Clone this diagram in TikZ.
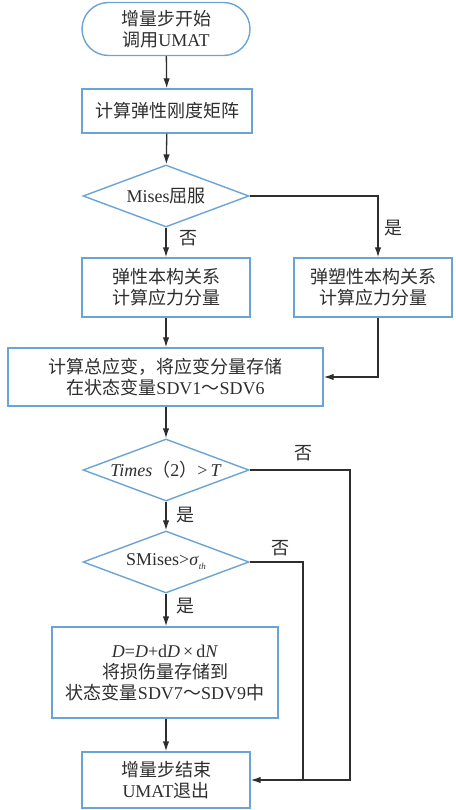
\documentclass[tikz,border=0pt]{standalone}
\usepackage{fontspec}
\setmainfont{Liberation Serif}
\newfontfamily\cjk{Noto Sans CJK SC}
\usetikzlibrary{shapes.geometric,shapes.misc,arrows.meta}
\definecolor{bluebd}{HTML}{6AA3D5}
\definecolor{linec}{HTML}{2E2E2E}
\definecolor{textc}{HTML}{2E2E2E}
\begin{document}
\begin{tikzpicture}[x=1pt,y=-1pt,
  every node/.style={font=\fontsize{18}{21}\selectfont, text=textc, align=center},
  box/.style={draw=bluebd, line width=1.4pt, rectangle, inner sep=0pt},
  term/.style={draw=bluebd, line width=1.4pt, rounded rectangle, inner sep=0pt},
  dia/.style={draw=bluebd, line width=1.4pt, diamond, aspect=2.7, inner sep=0pt, minimum width=166pt, minimum height=62pt},
  conn/.style={draw=linec, line width=1.3pt, -{Latex[length=10pt,width=6.5pt]}},
  lab/.style={font=\fontsize{18}{21}\selectfont\cjk}]
\useasboundingbox (0,0) rectangle (455,810);
\node[term, minimum width=168pt, minimum height=53pt] (start) at (166,29) {{\cjk 增量步开始}\\{\cjk 调用}UMAT};
\node[box, minimum width=170pt, minimum height=44pt] (stiff) at (167,111) {\cjk 计算弹性刚度矩阵};
\node[dia] (d1) at (166,196) {Mises{\cjk 屈服}};
\node[box, minimum width=168pt, minimum height=59pt] (el) at (166,287.5) {\cjk 弹性本构关系\\\cjk 计算应力分量};
\node[box, minimum width=158pt, minimum height=59pt] (pl) at (373,287.5) {\cjk 弹塑性本构关系\\\cjk 计算应力分量};
\node[box, minimum width=315pt, minimum height=58pt] (tot) at (165.5,377) {{\cjk 计算总应变，将应变分量存储}\\{\cjk 在状态变量}SDV1{\cjk ～}SDV6};
\node[dia] (d2) at (166,470) {\textit{Times}{\cjk （}2{\cjk ）}>\,\textit{T}};
\node[dia] (d3) at (166,562) {SMises>\textit{σ}\raisebox{-4pt}{\fontsize{9}{10}\selectfont\textit{th}}};
\node[box, minimum width=226pt, minimum height=91pt] (dmg) at (165,672.5) {\textit{D}=\textit{D}+d\textit{D}\,×\,d\textit{N}\\{\cjk 将损伤量存储到}\\{\cjk 状态变量}SDV7{\cjk ～}SDV9{\cjk 中}};
\node[box, minimum width=168pt, minimum height=56pt] (end) at (166,780) {{\cjk 增量步结束}\\UMAT{\cjk 退出}};
\coordinate (c1) at (378,196);
\coordinate (c2) at (350,470);
\coordinate (c3) at (303,562);
\draw[conn] (start) -- (stiff);
\draw[conn] (stiff) -- (d1);
\draw[conn] (d1) -- (el);
\draw[conn] (d1.east) -- (c1) -- (pl.north -| c1);
\draw[conn] (el) -- (tot.north -| el);
\draw[conn] (pl.south -| c1) |- (tot.east);
\draw[conn] (tot.south -| d2) -- (d2);
\draw[conn] (d2) -- (d3);
\draw[conn] (d3) -- (dmg.north -| d3);
\draw[conn] (dmg.south -| end) -- (end);
\draw[conn] (d2.east) -- (c2) |- (end.east);
\draw[draw=linec, line width=1.3pt] (d3.east) -- (c3) -- (c3 |- end.east);
\node[lab] (l1) at (188,238) {否};
\node[lab] (l2) at (393,228) {是};
\node[lab] (l3) at (303,453) {否};
\node[lab] (l4) at (185,515) {是};
\node[lab] (l5) at (280,548) {否};
\node[lab] (l6) at (185,606) {是};
\end{tikzpicture}
\end{document}
